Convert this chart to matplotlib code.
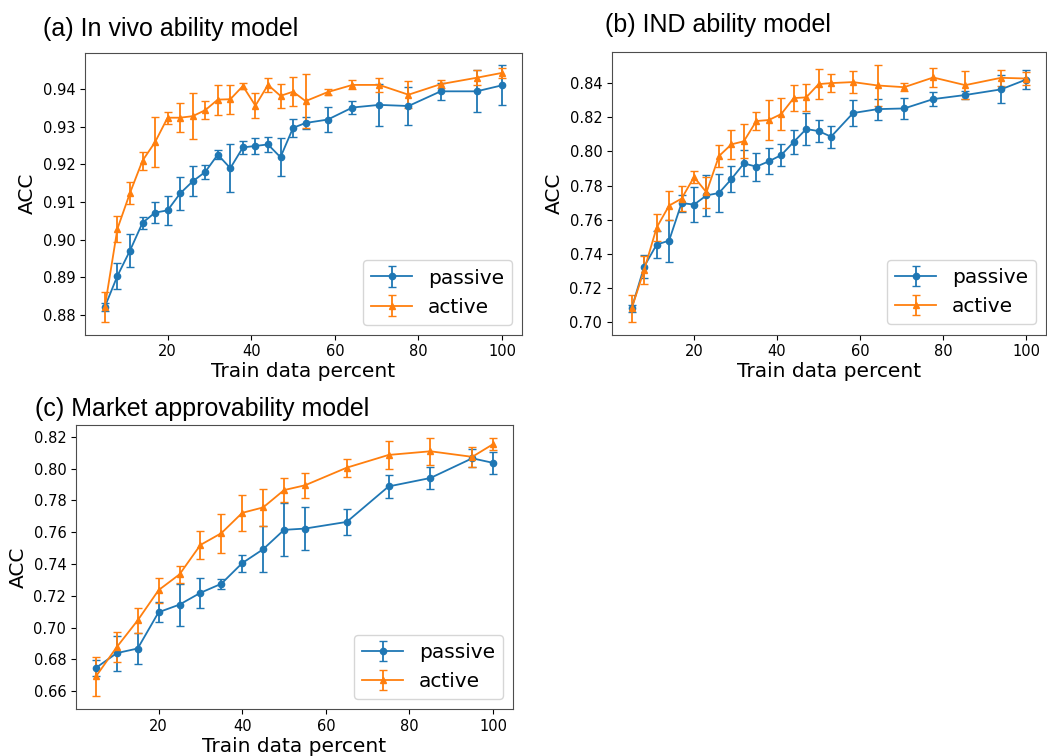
import matplotlib
matplotlib.use("Agg")
import matplotlib.pyplot as plt

# ---------------- data ----------------
x_ab = [5, 8, 11, 14, 17, 20, 23, 26, 29, 32, 35, 38, 41, 44, 47, 50, 53,
        58.3, 64.2, 70.6, 77.6, 85.3, 93.9, 100]

a_passive = [0.8822, 0.8904, 0.8971, 0.9045, 0.9072, 0.9078, 0.9123, 0.9155,
             0.9180, 0.9226, 0.9190, 0.9245, 0.9249, 0.9253, 0.9219, 0.9297,
             0.9310, 0.9319, 0.9351, 0.9358, 0.9355, 0.9394, 0.9394, 0.9410]
a_passive_err = [0.0010, 0.0035, 0.0044, 0.0016, 0.0028, 0.0038, 0.0043, 0.0040,
                 0.0018, 0.0011, 0.0063, 0.0017, 0.0022, 0.0019, 0.0050, 0.0024,
                 0.0016, 0.0033, 0.0016, 0.0055, 0.0051, 0.0023, 0.0056, 0.0053]
a_active = [0.8822, 0.9029, 0.9124, 0.9210, 0.9259, 0.9324, 0.9324, 0.9328,
            0.9344, 0.9372, 0.9373, 0.9408, 0.9356, 0.9411, 0.9382, 0.9393,
            0.9368, 0.9392, 0.9411, 0.9411, 0.9385, 0.9413, 0.9430, 0.9443]
a_active_err = [0.0040, 0.0035, 0.0029, 0.0024, 0.0066, 0.0016, 0.0039, 0.0061,
                0.0023, 0.0040, 0.0039, 0.0007, 0.0033, 0.0019, 0.0032, 0.0039,
                0.0071, 0.0008, 0.0012, 0.0019, 0.0036, 0.0010, 0.0020, 0.0013]

b_passive = [0.7079, 0.7324, 0.7453, 0.7476, 0.7697, 0.7688, 0.7742, 0.7756,
             0.7838, 0.7930, 0.7911, 0.7942, 0.7979, 0.8056, 0.8132, 0.8120,
             0.8087, 0.8226, 0.8249, 0.8253, 0.8308, 0.8332, 0.8365, 0.8423]
b_passive_err = [0.0020, 0.0069, 0.0080, 0.0123, 0.0050, 0.0101, 0.0120, 0.0110,
                 0.0074, 0.0076, 0.0083, 0.0077, 0.0065, 0.0071, 0.0093, 0.0065,
                 0.0065, 0.0079, 0.0062, 0.0062, 0.0039, 0.0025, 0.0082, 0.0057]
b_active = [0.7079, 0.7304, 0.7553, 0.7682, 0.7723, 0.7850, 0.7760, 0.7973,
            0.8042, 0.8060, 0.8179, 0.8185, 0.8220, 0.8314, 0.8318, 0.8396,
            0.8402, 0.8408, 0.8388, 0.8378, 0.8435, 0.8390, 0.8433, 0.8429]
b_active_err = [0.0079, 0.0080, 0.0079, 0.0085, 0.0072, 0.0037, 0.0091, 0.0067,
                0.0086, 0.0100, 0.0052, 0.0120, 0.0093, 0.0074, 0.0079, 0.0088,
                0.0054, 0.0066, 0.0123, 0.0025, 0.0056, 0.0082, 0.0047, 0.0036]

x_c = [5, 10, 15, 20, 25, 30, 35, 40, 45, 50, 55, 65, 75, 85, 95, 100]
c_passive = [0.6747, 0.6840, 0.6869, 0.7097, 0.7145, 0.7219, 0.7276, 0.7406,
             0.7493, 0.7615, 0.7623, 0.7665, 0.7888, 0.7941, 0.8065, 0.8036]
c_passive_err = [0.0050, 0.0110, 0.0097, 0.0063, 0.0132, 0.0095, 0.0033, 0.0053,
                 0.0144, 0.0167, 0.0137, 0.0082, 0.0075, 0.0067, 0.0057, 0.0069]
c_active = [0.6693, 0.6878, 0.7046, 0.7236, 0.7335, 0.7520, 0.7594, 0.7722,
            0.7756, 0.7865, 0.7895, 0.8006, 0.8086, 0.8109, 0.8074, 0.8154]
c_active_err = [0.0125, 0.0096, 0.0080, 0.0078, 0.0054, 0.0087, 0.0123, 0.0113,
                0.0115, 0.0074, 0.0079, 0.0056, 0.0086, 0.0084, 0.0064, 0.0036]

titles = ["(a) In vivo ability model", "(b) IND ability model",
          "(c) Market approvability model"]
series_labels = ["passive", "active"]
xlabel = "Train data percent"
ylabel = "ACC"

# ---------------- figure ----------------
W, H = 1047, 756
fig = plt.figure(figsize=(W / 100, H / 100), dpi=100)

def px_axes(l, r, t, b):
    return fig.add_axes([l / W, 1 - b / H, (r - l) / W, (b - t) / H])

ax_a = px_axes(85, 522, 52.5, 334.7)
ax_b = px_axes(612, 1046, 51.7, 334.5)
ax_c = px_axes(76, 513, 425, 709.3)

blue = "#1f77b4"
orange = "#ff7f0e"

panels = [
    (ax_a, x_ab, a_passive, a_passive_err, a_active, a_active_err),
    (ax_b, x_ab, b_passive, b_passive_err, b_active, b_active_err),
    (ax_c, x_c, c_passive, c_passive_err, c_active, c_active_err),
]

for ax, xs, p, pe, a, ae in panels:
    ax.errorbar(xs, p, yerr=pe, color=blue, marker="o", markersize=4.5,
                linewidth=1.3, capsize=3, elinewidth=1.3, label=series_labels[0])
    ax.errorbar(xs, a, yerr=ae, color=orange, marker="^", markersize=4.5,
                linewidth=1.3, capsize=3, elinewidth=1.3, label=series_labels[1])
    ax.set_xlabel(xlabel, fontsize=14.5, labelpad=2)
    ax.set_ylabel(ylabel, fontsize=14.5, labelpad=4)
    ax.tick_params(labelsize=10.5)
    ax.set_xticks([20, 40, 60, 80, 100])
    ax.yaxis.set_major_formatter(matplotlib.ticker.StrMethodFormatter("{x:.2f}"))
    for s in ax.spines.values():
        s.set_color("0.3")
    ax.legend(loc="lower right", fontsize=14.5)

ax_a.set_yticks([0.88, 0.89, 0.90, 0.91, 0.92, 0.93, 0.94])
ax_b.set_yticks([0.70, 0.72, 0.74, 0.76, 0.78, 0.80, 0.82, 0.84])
ax_c.set_yticks([0.66, 0.68, 0.70, 0.72, 0.74, 0.76, 0.78, 0.80, 0.82])

title_font = ["Liberation Sans", "DejaVu Sans"]
fig.text(43 / W, 1 - 36 / H, titles[0], fontsize=18, family=title_font, va="baseline")
fig.text(605 / W, 1 - 32 / H, titles[1], fontsize=18, family=title_font, va="baseline")
fig.text(35 / W, 1 - 415.7 / H, titles[2], fontsize=18, family=title_font, va="baseline")

fig.savefig("out.png", dpi=100)
